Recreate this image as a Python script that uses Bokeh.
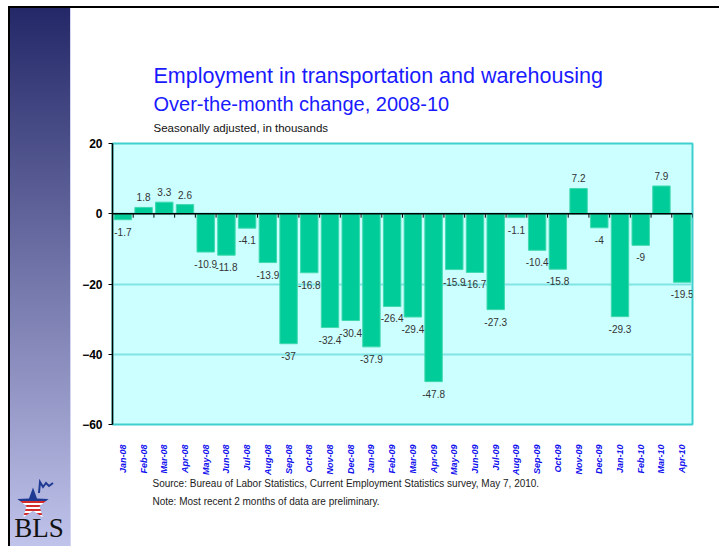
import math
from bokeh.plotting import figure
from bokeh.models import ColumnDataSource, FactorRange, Range1d, FixedTicker, Span, Div
from bokeh.layouts import row, column
from bokeh.embed import file_html
from bokeh.resources import INLINE
from bokeh.core.properties import value

# ---------------- data ----------------
months = ["Jan-08", "Feb-08", "Mar-08", "Apr-08", "May-08", "Jun-08", "Jul-08",
          "Aug-08", "Sep-08", "Oct-08", "Nov-08", "Dec-08", "Jan-09", "Feb-09",
          "Mar-09", "Apr-09", "May-09", "Jun-09", "Jul-09", "Aug-09", "Sep-09",
          "Oct-09", "Nov-09", "Dec-09", "Jan-10", "Feb-10", "Mar-10", "Apr-10"]
changes = [-1.7, 1.8, 3.3, 2.6, -10.9, -11.8, -4.1,
           -13.9, -37, -16.8, -32.4, -30.4, -37.9, -26.4,
           -29.4, -47.8, -15.9, -16.7, -27.3, -1.1, -10.4,
           -15.8, 7.2, -4, -29.3, -9, 7.9, -19.5]
y_ticks = [-60, -40, -20, 0, 20]
y_min, y_max = -60, 20

title_line1 = "Employment in transportation and warehousing"
title_line2 = "Over-the-month change, 2008-10"
subtitle = "Seasonally adjusted, in thousands"
source_text = "Source:  Bureau of Labor Statistics, Current Employment Statistics survey, May 7, 2010."
note_text = "Note:  Most recent 2 months of data are preliminary."

FONT = "Liberation Sans"

# ---------------- geometry (page pixels) ----------------
STRIPE_W = 72
W = 719 - STRIPE_W
FRAME_L, FRAME_R, FRAME_T, FRAME_B = 112, 692, 143, 428
TOPBAR_H = 8
MAIN_BORDER_TOP = 6
MAIN_BORDER_BOTTOM = 50
TITLE_H = FRAME_T - MAIN_BORDER_TOP - TOPBAR_H
MAIN_H = MAIN_BORDER_TOP + (FRAME_B - FRAME_T) + MAIN_BORDER_BOTTOM
NOTES_TOP = TOPBAR_H + TITLE_H + MAIN_H
NOTES_H = 546 - NOTES_TOP
BL = FRAME_L - STRIPE_W
BR = STRIPE_W + W - FRAME_R

# ---------------- main chart ----------------
p = figure(x_range=FactorRange(*months, range_padding=0),
           y_range=Range1d(y_min, y_max),
           width=W, height=MAIN_H,
           min_border_left=BL, min_border_right=BR,
           min_border_top=MAIN_BORDER_TOP, min_border_bottom=MAIN_BORDER_BOTTOM,
           output_backend="svg", toolbar_location=None)
p.background_fill_color = "#ccffff"
p.border_fill_color = "white"
p.outline_line_color = "#3fcfcf"
p.outline_line_width = 2

px_per_unit = (FRAME_B - FRAME_T) / (y_max - y_min)

src = ColumnDataSource(dict(
    x=months, top=changes,
    label=[f"{v:g}" for v in changes],
    off=[12 if v < 0 else -10 for v in changes],
))
p.vbar(x="x", top="top", bottom=0, width=0.84, source=src,
       fill_color="#00cc99", line_color="#3fd9ad", line_width=1)
p.text(x="x", y="top", text="label", y_offset="off", source=src,
       text_align="center", text_baseline="middle",
       text_font=value(FONT), text_font_size="10px", text_color="#333333")

p.add_layout(Span(location=0, dimension="width", line_color="black", line_width=1.5))
tick_len = 4 / px_per_unit
bx = [float(i) for i in range(1, len(months) + 1)]
p.segment(x0=bx, y0=[0] * len(bx), x1=bx, y1=[-tick_len] * len(bx),
          line_color="black", line_width=1)

p.yaxis.ticker = FixedTicker(ticks=y_ticks)
p.yaxis.axis_line_color = "black"
p.yaxis.axis_line_width = 1.5
p.yaxis.major_tick_out = 4
p.yaxis.major_tick_in = 0
p.yaxis.minor_tick_line_color = None
p.yaxis.major_label_text_font = FONT
p.yaxis.major_label_text_font_style = "bold"
p.yaxis.major_label_text_font_size = "12px"
p.yaxis.major_label_text_color = "black"
p.yaxis.major_label_standoff = 6

p.xaxis.axis_line_color = None
p.xaxis.major_tick_line_color = None
p.xaxis.minor_tick_line_color = None
p.xaxis.major_label_orientation = math.pi / 2
p.xaxis.major_label_text_font = FONT
p.xaxis.major_label_text_font_style = "bold italic"
p.xaxis.major_label_text_font_size = "9px"
p.xaxis.major_label_text_color = "#1010ee"
p.xaxis.major_label_standoff = 14

p.xgrid.grid_line_color = None
p.ygrid.ticker = FixedTicker(ticks=y_ticks)
p.ygrid.grid_line_color = "#80e4e4"
p.ygrid.grid_line_width = 2

# ---------------- text panels (page-pixel coordinates) ----------------
def text_panel(page_top, height):
    f = figure(width=W, height=height,
               x_range=Range1d(FRAME_L, FRAME_R),
               y_range=Range1d(page_top + height, page_top),
               x_axis_location=None, y_axis_location=None,
               min_border_left=BL, min_border_right=BR,
               min_border_top=0, min_border_bottom=0,
               output_backend="svg", toolbar_location=None)
    f.grid.visible = False
    f.outline_line_color = None
    f.background_fill_color = "white"
    f.border_fill_color = "white"
    return f

tf = text_panel(TOPBAR_H, TITLE_H)
for txt, yy, size, col in [(title_line1, 75, "21.5px", "#1a1aff"),
                           (title_line2, 103, "20px", "#1a1aff"),
                           (subtitle, 127, "11.5px", "#111111")]:
    tf.text(x=[153], y=[yy], text=[txt], text_align="left", text_baseline="middle",
            text_font=value(FONT), text_font_size=size, text_color=col)

nf = text_panel(NOTES_TOP, NOTES_H)
for txt, yy in [(source_text, 483), (note_text, 501)]:
    nf.text(x=[152], y=[yy], text=[txt], text_align="left", text_baseline="middle",
            text_font=value(FONT), text_font_size="10px", text_color="#222222")

# ---------------- top rule ----------------
topbar = Div(text="", width=W, height=2, margin=(TOPBAR_H - 2, 0, 0, 0),
             styles={"background-color": "black"})

# ---------------- left stripe with BLS logo ----------------
cx, cy, R, r = 33, 504, 16.5, 6.8
pts = []
for k in range(10):
    a = -math.pi / 2 + k * math.pi / 5
    rad = R if k % 2 == 0 else r
    pts.append(f"{cx + rad * math.cos(a):.2f},{cy + rad * math.sin(a):.2f}")
stops = []
y0s, y1s = cy - R, cy + R
blue_end = cy - 0.2 * R
def frac(y):
    return (y - y0s) / (y1s - y0s)
stops.append('<stop offset="0" stop-color="#1f3a93"/>')
stops.append(f'<stop offset="{frac(blue_end):.4f}" stop-color="#1f3a93"/>')
yy = blue_end
k = 0
while yy < y1s:
    colr = "#d42a2a" if k % 2 == 0 else "#ffffff"
    h = 2.4 if k % 2 == 0 else 1.6
    stops.append(f'<stop offset="{frac(yy):.4f}" stop-color="{colr}"/>')
    stops.append(f'<stop offset="{min(1, frac(yy + h)):.4f}" stop-color="{colr}"/>')
    yy += h
    k += 1

stripe_svg = f'''<svg width="{STRIPE_W}" height="546" style="display:block">
<defs>
<linearGradient id="bg" x1="0" y1="0" x2="0" y2="1">
<stop offset="0" stop-color="rgb(36,40,104)"/>
<stop offset="1" stop-color="rgb(192,195,234)"/>
</linearGradient>
<linearGradient id="star" gradientUnits="userSpaceOnUse" x1="0" y1="{y0s:.2f}" x2="0" y2="{y1s:.2f}">
{''.join(stops)}
</linearGradient>
</defs>
<rect x="10" y="8" width="60" height="538" fill="url(#bg)"/>
<rect x="70" y="8" width="1" height="538" fill="#d4d6f0"/>
<rect x="8" y="6" width="2" height="540" fill="black"/>
<rect x="8" y="6" width="{STRIPE_W - 8}" height="2" fill="black"/>
<polygon points="{' '.join(pts)}" fill="url(#star)"/>
<polyline points="39,493 40,482 43,487 46,483 49,486 53,483" fill="none" stroke="#1f3a93" stroke-width="2"/>
<text x="39" y="537" text-anchor="middle" style="font-family:'Liberation Serif','DejaVu Serif',serif;font-size:27px" fill="#111">BLS</text>
</svg>'''
stripe = Div(text=stripe_svg, width=STRIPE_W, height=546, margin=0)

layout = row(stripe, column(topbar, tf, p, nf, spacing=0), spacing=0)

open("out.html", "w").write(file_html(layout, INLINE))
